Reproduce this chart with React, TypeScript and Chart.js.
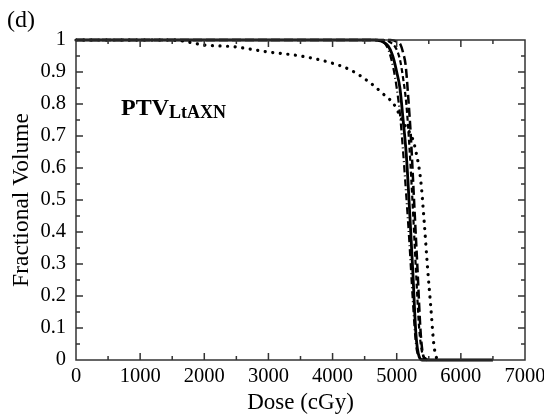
import React, { useEffect, useRef } from "react";
import { Chart, registerables } from "chart.js";

Chart.register(...registerables);

// Dose (cGy) / fractional volume
const doseSolid = [0, 4650, 4750, 4820, 4870, 4920, 4960, 5000, 5050, 5100, 5150, 5200, 5250, 5300, 5350, 5400, 6500];
const volSolid = [1, 1, 0.997, 0.99, 0.98, 0.96, 0.935, 0.9, 0.85, 0.75, 0.64, 0.47, 0.28, 0.08, 0.01, 0, 0];

const doseDashDot = [0, 4650, 4780, 4870, 4950, 5000, 5050, 5100, 5150, 5200, 5250, 5300, 5350, 5500];
const volDashDot = [1, 1, 0.995, 0.97, 0.91, 0.85, 0.77, 0.65, 0.51, 0.36, 0.19, 0.05, 0.01, 0];

const doseDashed = [0, 4820, 4920, 4970, 5020, 5060, 5100, 5150, 5200, 5250, 5300, 5350, 5400, 5450, 5500];
const volDashed = [1, 1, 0.99, 0.98, 0.96, 0.93, 0.88, 0.8, 0.66, 0.48, 0.28, 0.1, 0.02, 0.005, 0];

const doseLongDash = [0, 4900, 5000, 5060, 5100, 5140, 5180, 5220, 5270, 5320, 5375, 5420, 5480];
const volLongDash = [1, 1, 0.995, 0.985, 0.96, 0.92, 0.82, 0.7, 0.5, 0.3, 0.08, 0.01, 0];

const doseDotted = [0, 1500, 2016, 2453, 2980, 3500, 3917, 4281, 4594, 4797, 4953, 5109, 5250, 5297, 5375, 5427, 5480, 5531, 5578, 5615, 5650];
const volDotted = [1, 1, 0.984, 0.979, 0.963, 0.95, 0.932, 0.906, 0.865, 0.83, 0.8, 0.74, 0.69, 0.654, 0.56, 0.435, 0.29, 0.166, 0.05, 0.01, 0];

const xTicks = [0, 1000, 2000, 3000, 4000, 5000, 6000, 7000];
const yTicks = [0, 0.1, 0.2, 0.3, 0.4, 0.5, 0.6, 0.7, 0.8, 0.9, 1];

const zip = (xs: number[], ys: number[]) => xs.map((x, i) => ({ x, y: ys[i] }));

const SERIF = "'Liberation Serif', 'DejaVu Serif', serif";

const framePlugin = {
  id: "frameTicks",
  afterDraw(chart: any) {
    const { ctx, chartArea } = chart;
    const { left, right, top, bottom } = chartArea;
    const xs = chart.scales.x;
    const ys = chart.scales.y;
    ctx.save();
    ctx.strokeStyle = "#333";
    ctx.lineWidth = 1.5;
    ctx.strokeRect(left, top, right - left, bottom - top);
    ctx.beginPath();
    for (let d = 500; d < 7000; d += 500) {
      const len = d % 1000 === 0 ? 7 : 4;
      const px = xs.getPixelForValue(d);
      ctx.moveTo(px, bottom);
      ctx.lineTo(px, bottom - len);
      ctx.moveTo(px, top);
      ctx.lineTo(px, top + len);
    }
    for (let k = 1; k < 20; k++) {
      const v = k * 0.05;
      const len = k % 2 === 0 ? 7 : 4;
      const py = ys.getPixelForValue(v);
      ctx.moveTo(left, py);
      ctx.lineTo(left + len, py);
      ctx.moveTo(right, py);
      ctx.lineTo(right - len, py);
    }
    ctx.stroke();

    ctx.fillStyle = "#000";
    ctx.textBaseline = "alphabetic";
    ctx.textAlign = "left";
    ctx.font = `24px ${SERIF}`;
    ctx.fillText("(d)", 7, 27);
    ctx.font = `bold 24px ${SERIF}`;
    ctx.fillText("PTV", 121, 115);
    const w = ctx.measureText("PTV").width;
    ctx.font = `bold 18px ${SERIF}`;
    ctx.fillText("LtAXN", 121 + w, 118);
    ctx.restore();
  },
};

export default function App() {
  const ref = useRef<HTMLCanvasElement | null>(null);
  useEffect(() => {
    if (!ref.current) return;
    const common = {
      borderColor: "#000",
      pointRadius: 0,
      fill: false,
      cubicInterpolationMode: "monotone" as const,
      clip: false as any,
    };
    const chart = new Chart(ref.current, {
      type: "line",
      data: {
        datasets: [
          { ...common, label: "dotted", data: zip(doseDotted, volDotted), borderWidth: 3.2, borderDash: [0.1, 7.5], borderCapStyle: "round" },
          { ...common, label: "dash-dot", data: zip(doseDashDot, volDashDot), borderWidth: 2.2, borderDash: [7, 3, 1, 3] },
          { ...common, label: "long-dash", data: zip(doseLongDash, volLongDash), borderWidth: 2.5, borderDash: [9, 4] },
          { ...common, label: "dashed", data: zip(doseDashed, volDashed), borderWidth: 2.2, borderDash: [5, 3] },
          { ...common, label: "solid", data: zip(doseSolid, volSolid), borderWidth: 2.8 },
        ],
      },
      options: {
        responsive: false,
        animation: false,
        layout: { padding: { left: 0, right: 19, top: 40, bottom: 0 } },
        plugins: { legend: { display: false }, tooltip: { enabled: false } },
        scales: {
          x: {
            type: "linear",
            min: 0,
            max: 7000,
            afterBuildTicks: (s: any) => { s.ticks = xTicks.map((v) => ({ value: v })); },
            afterFit: (s: any) => { s.height = 59; s.paddingLeft = 0; s.paddingRight = 0; },
            grid: { display: false, drawTicks: false },
            border: { display: false },
            ticks: {
              color: "#000",
              padding: 4,
              maxRotation: 0,
              font: { family: SERIF, size: 20.5 },
              callback: (v: any) => String(v),
            },
            title: {
              display: true,
              text: "Dose (cGy)",
              color: "#000",
              font: { family: SERIF, size: 23 },
              padding: { top: 0, bottom: 2 },
            },
          },
          y: {
            type: "linear",
            min: 0,
            max: 1,
            afterBuildTicks: (s: any) => { s.ticks = yTicks.map((v) => ({ value: v })); },
            afterFit: (s: any) => { s.width = 76; s.paddingTop = 0; s.paddingBottom = 0; },
            grid: { display: false, drawTicks: false },
            border: { display: false },
            ticks: {
              color: "#000",
              padding: 10,
              font: { family: SERIF, size: 20.5 },
              callback: (v: any) => String(Math.round(Number(v) * 10) / 10),
            },
            title: {
              display: true,
              text: "Fractional Volume",
              color: "#000",
              font: { family: SERIF, size: 23.5 },
              padding: { top: 8, bottom: 0 },
            },
          },
        },
      },
      plugins: [framePlugin],
    });
    return () => chart.destroy();
  }, []);
  return (
    <div style={{ position: "absolute", left: 0, top: 0, width: 544, height: 419, background: "#fff" }}>
      <canvas ref={ref} width={544} height={419} style={{ width: 544, height: 419 }} />
    </div>
  );
}
